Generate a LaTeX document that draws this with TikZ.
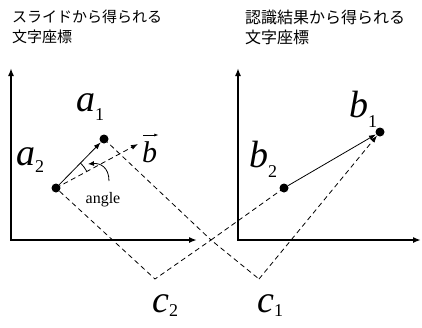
\documentclass[tikz,border=0pt]{standalone}
\usepackage{fontspec}
\setmainfont{Liberation Serif}
\newfontfamily\jpfont{Noto Sans CJK JP}
\usetikzlibrary{arrows.meta,calc}
\newcommand\mysub[3]{\textit{#1}\raisebox{-#3pt}{\fontsize{18}{18}\selectfont\upshape #2}}
\begin{document}
\begin{tikzpicture}[x=1pt,y=-1pt,
  axis/.style={line width=2.5pt,line join=miter,{Latex[length=8pt,width=6pt]}-{Latex[length=8pt,width=6pt]}},
  dot/.style={circle,fill=black,inner sep=0pt,minimum size=9pt},
  vec/.style={line width=0.8pt,-{Latex[length=7pt,width=5pt]}},
  dsh/.style={dash pattern=on 5pt off 3.5pt,line width=0.8pt},
  lbl/.style={inner sep=0pt,anchor=base west,font=\fontsize{38}{38}\selectfont},
  jp/.style={inner sep=0pt,anchor=north west,align=left}
]
\useasboundingbox (0,0) rectangle (422,327);

% Japanese titles
\node[jp,font=\jpfont\fontsize{15}{20}\selectfont] (t1) at (12,10) {スライドから得られる\\文字座標};
\node[jp,font=\jpfont\fontsize{16}{20}\selectfont] (t2) at (245,10) {認識結果から得られる\\文字座標};

% axes
\coordinate (y1) at (11,68); \coordinate (o1) at (11,240); \coordinate (x1) at (197,240);
\coordinate (y2) at (238,68); \coordinate (o2) at (238,240); \coordinate (x2) at (421,240);
\draw[axis] (y1) -- (o1) -- (x1);
\draw[axis] (y2) -- (o2) -- (x2);

% points
\node[dot] (a1) at (104,139) {};
\node[dot] (a2) at (56,188) {};
\node[dot] (b1) at (380,132) {};
\node[dot] (b2) at (284,188) {};
\coordinate (c2) at (155,279);
\coordinate (c1) at (259,279);
\coordinate (x) at (211,240);
\coordinate (bt) at (138,144);

% dashed construction
\draw[dsh] (a1.center) -- (x) -- (c2) -- (a2.center);
\draw[dsh,-{Latex[length=7pt,width=5pt]}] (a2.center) -- (bt);
\draw[dsh] (b2.center) -- (x) -- (c1);
\draw[dsh,-{Latex[length=7pt,width=5pt]}] (c1) -- (b1);

% vectors
\draw[vec] (a2) -- (a1);
\draw[vec] (b2) -- (b1);

% angle
\draw[line width=0.8pt] ($(a2.center)+(-45.6:35)$) arc[start angle=-45.6,end angle=-28.2,radius=35];
\coordinate (cs) at (109,181);
\coordinate (ce) at (88,164);
\draw[line width=0.8pt,-{Latex[length=6pt,width=5pt]}] (cs) .. controls (109,167) and (100,163) .. (ce);
\node[inner sep=0pt,anchor=base,font=\fontsize{16}{16}\selectfont] (ang) at (103,203) {angle};

% labels
\node[lbl] (la1) at (76,111) {\mysub{a}{1}{9}};
\node[lbl] (la2) at (16,165) {\mysub{a}{2}{7}};
\node[lbl] (lb1) at (349,117) {\mysub{b}{1}{10}};
\node[lbl] (lb2) at (249,167) {\mysub{b}{2}{10}};
\node[lbl] (lc2) at (152,312) {\mysub{c}{2}{4}};
\node[lbl] (lc1) at (257,312) {\mysub{c}{1}{4}};
\node[inner sep=0pt,anchor=base west,font=\fontsize{30}{30}\selectfont\itshape] (lb) at (142,162) {b};
\draw[line width=0.6pt,-{Latex[length=4pt,width=3pt]}] ($(lb.north west)+(1,-6)$) -- ($(lb.north east)+(1,-6)$);
\end{tikzpicture}
\end{document}
